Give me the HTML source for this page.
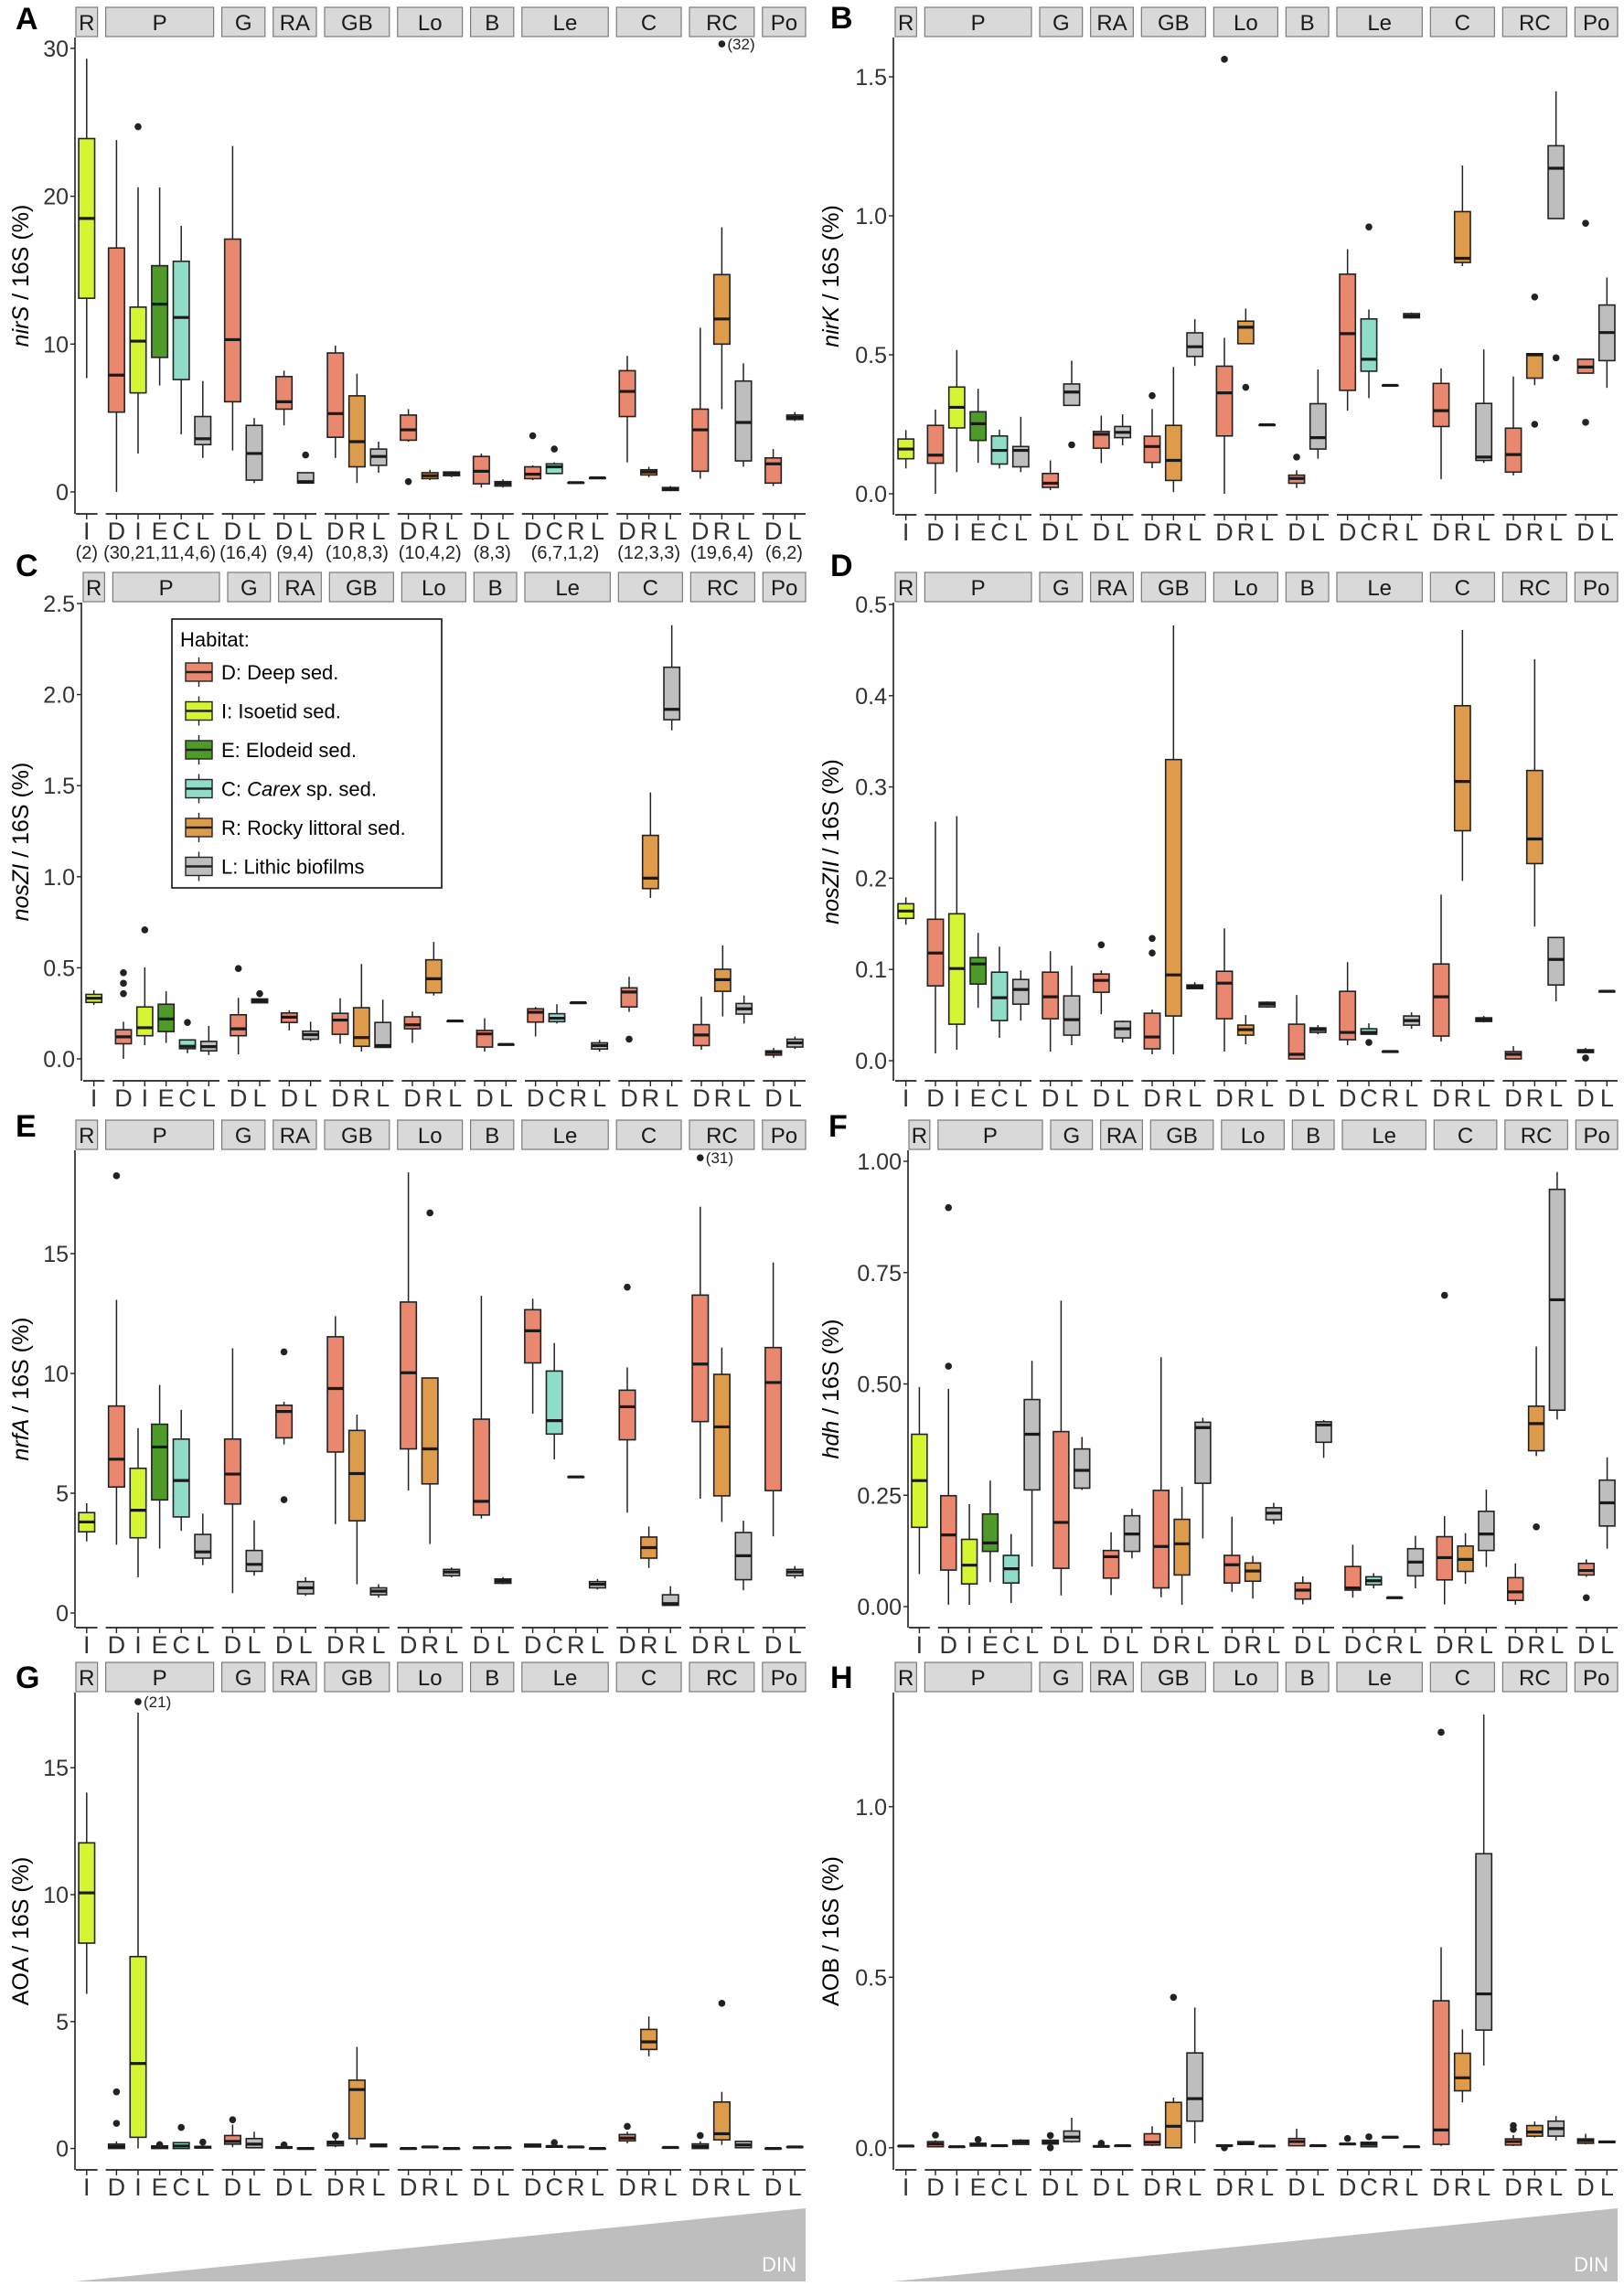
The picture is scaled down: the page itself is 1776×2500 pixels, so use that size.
<!DOCTYPE html>
<html><head><meta charset="utf-8"><style>
html,body{margin:0;padding:0;background:#fff;}
svg{display:block;font-family:"Liberation Sans",Arial,sans-serif;}
</style></head><body>
<svg id="s" width="1776" height="2500" viewBox="0 0 1776 2500" xmlns="http://www.w3.org/2000/svg"></svg>
<script>
var COL={D:"#E9876F",I:"#D4F531",E:"#4E9B29",C:"#8FDCC8",R:"#DE9B4B",L:"#BEBEBE"};
var FAC=[["R","I"],["P","DIECL"],["G","DL"],["RA","DL"],["GB","DRL"],["Lo","DRL"],["B","DL"],["Le","DCRL"],["C","DRL"],["RC","DRL"],["Po","DL"]];
var NL=["(2)","(30,21,11,4,6)","(16,4)","(9,4)","(10,8,3)","(10,4,2)","(8,3)","(6,7,1,2)","(12,3,3)","(19,6,4)","(6,2)"];
var P={
A:[[13.1,18.5,23.9,7.7,29.3],[5.4,7.9,16.5,0,23.8],[6.7,10.2,12.5,2.6,20.6,24.7],[9.1,12.7,15.3,7.2,20.6],[7.6,11.8,15.6,3.9,18.0],[3.2,3.6,5.1,2.3,7.5],[6.1,10.3,17.1,2.8,23.4],[0.8,2.6,4.5,0.6,5.0],[5.6,6.1,7.8,4.5,8.2],[0.6,0.7,1.3,0.6,1.3,2.5],[3.7,5.3,9.4,2.3,9.9],[1.7,3.4,6.5,0.6,8.0],[1.8,2.4,2.9,1.3,3.4],[3.5,4.2,5.2,3.4,5.6,0.7],[0.9,1.1,1.3,0.8,1.5],[1.1,1.25,1.35,1.0,1.4],[0.55,1.4,2.4,0.3,2.6],[0.4,0.55,0.7,0.3,0.85],[0.9,1.2,1.7,0.8,1.8,3.8],[1.25,1.7,1.9,1.2,2.0,2.9],[0.63],[0.95],[5.1,6.8,8.2,2.0,9.2],[1.15,1.35,1.5,1.0,1.7],[0.1,0.2,0.3,0.05,0.4],[1.4,4.2,5.6,0.9,11.1],[10.0,11.7,14.7,5.6,17.9,30.3],[2.1,4.7,7.5,1.7,8.7],[0.6,1.9,2.3,0.4,2.9],[4.9,5.05,5.2,4.8,5.4]],
B:[[.126,.161,.197,.091,.229],[.110,.139,.246,0,.303],[.237,.311,.384,.078,.517],[.192,.252,.295,.111,.378],[.107,.156,.208,.091,.231],[.097,.156,.170,.078,.277],[.023,.038,.073,.013,.12],[.318,.366,.395,.318,.479,.176],[.164,.214,.224,.11,.281],[.202,.221,.242,.174,.286],[.113,.170,.207,.092,.305,.353],[.048,.12,.246,.006,.456],[.494,.529,.579,.46,.628],[.208,.363,.459,0,.561,1.563],[.54,.599,.621,.54,.666,.383],[.248],[.038,.055,.067,.021,.085,.132],[.161,.202,.324,.126,.447],[.372,.576,.79,.299,.88],[.441,.484,.629,.344,.663,.96],[.39],[.633,.64,.648,.63,.652],[.242,.299,.397,.053,.451],[.832,.847,1.015,.819,1.181],[.12,.132,.325,.111,.519],[.078,.141,.236,.066,.422],[.416,.5,.504,.391,.504,.708,.25],[.99,1.171,1.252,.99,1.448,.489],[.434,.456,.484,.434,.484,.973,.257],[.479,.58,.679,.381,.778]],
C:[[.31,.333,.354,.296,.377],[.083,.121,.16,0,.204,.473,.415,.358],[.127,.171,.285,.075,.502,.708],[.15,.219,.3,.088,.371],[.056,.069,.104,.031,.104,.2],[.044,.067,.096,.021,.181],[.127,.165,.242,.025,.335,.496],[.308,.319,.329,.308,.329,.358],[.2,.229,.252,.156,.267],[.108,.133,.152,.098,.204],[.135,.213,.25,.083,.333],[.069,.117,.281,.04,.521],[.063,.073,.2,.063,.325],[.165,.187,.231,.088,.26],[.363,.44,.544,.348,.642],[.208],[.065,.137,.156,.04,.223],[.079],[.202,.256,.275,.123,.285],[.204,.223,.248,.194,.3],[.308],[.054,.073,.088,.04,.104],[.285,.367,.39,.258,.45,.108],[.935,.992,1.227,.883,1.463],[1.862,1.919,2.15,1.804,2.381],[.073,.131,.188,.05,.342],[.371,.435,.492,.233,.623],[.246,.275,.304,.194,.348],[.021,.035,.044,.006,.06],[.065,.088,.108,.054,.123]],
D:[[.156,.164,.172,.149,.179],[.082,.118,.155,.008,.262],[.04,.101,.161,.012,.268],[.084,.106,.113,.058,.14],[.044,.069,.097,.025,.125],[.062,.078,.089,.044,.099],[.046,.07,.097,.01,.12],[.028,.045,.071,.017,.104],[.075,.088,.095,.051,.099,.127],[.025,.035,.043,.02,.044],[.013,.026,.052,.007,.056,.134,.118],[.049,.094,.33,.007,.477],[.079,.081,.083,.079,.086],[.046,.085,.098,.01,.145],[.028,.034,.039,.018,.05],[.059,.062,.064,.058,.065],[.002,.007,.04,.002,.072],[.031,.034,.036,.029,.039],[.023,.031,.076,.017,.108],[.029,.031,.035,.029,.041,.02],[.01],[.039,.044,.049,.035,.053],[.027,.07,.106,.021,.182],[.252,.306,.389,.197,.472],[.043,.045,.047,.042,.049],[.002,.007,.01,.002,.016],[.216,.243,.318,.147,.44],[.083,.111,.135,.065,.135],[.009,.01,.012,.009,.014,.003],[.076]],
E:[[3.39,3.8,4.19,2.99,4.58],[5.26,6.42,8.64,2.85,13.07,18.25],[3.14,4.29,6.04,1.49,7.72],[4.72,6.93,7.88,2.69,9.52],[4.01,5.53,7.26,3.43,8.48],[2.29,2.55,3.28,2.0,4.15],[4.55,5.8,7.26,.83,11.05],[1.74,2.03,2.61,1.56,3.87],[7.31,8.41,8.67,7.04,8.82,10.9,4.73],[.8,1.05,1.31,.72,1.49],[6.72,9.37,11.53,3.71,12.39],[3.85,5.82,7.62,1.2,8.28],[.76,.91,1.05,.64,1.2],[6.85,10.03,12.98,5.11,18.39],[5.39,6.85,9.81,2.88,9.81,16.7],[1.56,1.71,1.82,1.49,1.9],[4.09,4.66,8.09,3.94,13.24],[1.24,1.33,1.42,1.2,1.5],[10.44,11.78,12.66,8.32,13.12],[7.47,8.03,10.1,6.41,11.27],[5.68],[1.05,1.2,1.31,.98,1.42],[7.23,8.61,9.3,4.19,10.25,13.6],[2.29,2.73,3.17,1.88,3.61],[.32,.39,.76,.32,1.12],[7.99,10.39,13.27,4.77,16.96,19.0],[4.89,7.77,9.96,3.8,11.08],[1.39,2.39,3.36,.95,3.85],[5.11,9.62,11.08,3.2,14.63],[1.56,1.71,1.82,1.45,1.96]],
F:[[.178,.283,.387,.073,.493],[.082,.161,.249,.004,.489,.896,.54],[.051,.093,.151,.004,.23],[.124,.143,.208,.055,.283],[.053,.085,.115,.008,.163],[.262,.387,.465,.09,.552],[.086,.189,.393,.025,.687],[.266,.306,.354,.262,.381],[.064,.112,.126,.026,.167],[.124,.163,.204,.108,.22],[.042,.135,.261,.021,.56],[.071,.141,.196,.004,.269],[.277,.402,.414,.153,.424],[.053,.094,.115,.033,.202],[.057,.08,.098,.018,.114],[.195,.21,.222,.185,.233],[.017,.037,.053,.005,.068],[.369,.408,.415,.334,.419],[.037,.042,.09,.02,.139],[.049,.058,.067,.041,.075],[.02],[.069,.1,.13,.041,.159],[.06,.11,.157,.005,.203,.699],[.079,.106,.136,.051,.165],[.126,.163,.214,.089,.263],[.014,.033,.065,.004,.097],[.35,.411,.45,.338,.584,.179],[.441,.689,.937,.42,.976],[.071,.081,.097,.067,.106,.02],[.181,.233,.284,.13,.335]],
G:[[8.09,10.07,12.04,6.09,14.02],[0,.08,.17,0,.28,2.23,.99],[.44,3.35,7.56,0,17.17,17.6],[0,.05,.1,0,.2,.15],[0,.1,.23,0,.23,.83],[.02,.05,.08,0,.1,.25],[.17,.28,.51,.05,.94,1.13],[.03,.17,.39,0,.66],[.02,.04,.06,0,.08,.14],[-.02,0,.02,-.02,.02],[.11,.21,.28,.05,.41,.51],[.39,2.32,2.69,.14,4.0],[.07,.12,.17,.07,.17],[0],[.06],[0],[.03],[.03],[.06,.1,.17,.06,.17],[.05,.08,.1,.05,.1,.23],[.06],[0],[.3,.41,.55,.2,.66,.87],[3.9,4.2,4.69,3.63,5.2],[.04],[0,.08,.18,0,.28,.51],[.34,.58,1.83,.14,2.23,5.72],[.03,.14,.28,.03,.28],[0],[.06]],
H:[[.005],[.003,.011,.018,.003,.022,.037],[.003],[.005,.009,.013,.005,.016,.024],[.006],[.01,.016,.022,.01,.025],[.011,.016,.022,.011,.025,.036,0],[.018,.031,.049,.015,.088],[.003,.004,.005,.003,.005,.013],[.006],[.008,.016,.041,.005,.063],[0,.063,.133,0,.147,.441],[.078,.144,.278,.013,.411],[.005,.006,.007,.005,.007,0],[.01,.012,.018,.01,.018],[.005],[.006,.018,.027,.004,.056],[.006],[.01,.011,.012,.01,.012,.027],[.003,.01,.016,.003,.018,.032],[.031],[.003],[.01,.052,.431,.005,.588,1.218],[.167,.205,.277,.133,.347],[.345,.451,.862,.241,1.27],[.008,.018,.026,.005,.037,.065,.054],[.034,.046,.065,.03,.077],[.034,.056,.078,.021,.093],[.013,.021,.026,.01,.041],[.015,.017,.019,.015,.019]]
};
var CFG=[
{k:"A",ax:82,f0:83,f1:881,st:8,sb:41,bot:562,y0:538,s:16.17,t:[[0,"0"],[10,"10"],[20,"20"],[30,"30"]],g:"nirS",r:" / 16S (%)",it:1,lx:17,ly:32,tx:22,n:1,ann:[26,30.3,"(32)"]},
{k:"B",ax:977,f0:979,f1:1769,st:8,sb:41,bot:563,y0:540,s:304,t:[[0,"0.0"],[.5,"0.5"],[1,"1.0"],[1.5,"1.5"]],g:"nirK",r:" / 16S (%)",it:1,lx:908,ly:31,tx:908},
{k:"C",ax:89,f0:91,f1:881,st:626,sb:659,bot:1182,y0:1158,s:199.2,t:[[0,"0.0"],[.5,"0.5"],[1,"1.0"],[1.5,"1.5"],[2,"2.0"],[2.5,"2.5"]],g:"nosZI",r:" / 16S (%)",it:1,lx:17,ly:630,tx:22,leg:1},
{k:"D",ax:977,f0:979,f1:1769,st:626,sb:659,bot:1182,y0:1160,s:998,t:[[0,"0.0"],[.1,"0.1"],[.2,"0.2"],[.3,"0.3"],[.4,"0.4"],[.5,"0.5"]],g:"nosZII",r:" / 16S (%)",it:1,lx:908,ly:630,tx:908},
{k:"E",ax:82,f0:83,f1:881,st:1225,sb:1258,bot:1780,y0:1764,s:26.2,t:[[0,"0"],[5,"5"],[10,"10"],[15,"15"]],g:"nrfA",r:" / 16S (%)",it:1,lx:17,ly:1243,tx:22,ann:[25,19.0,"(31)"]},
{k:"F",ax:993,f0:994,f1:1769,st:1225,sb:1258,bot:1780,y0:1757,s:487,t:[[0,"0.00"],[.25,"0.25"],[.5,"0.50"],[.75,"0.75"],[1,"1.00"]],g:"hdh",r:" / 16S (%)",it:1,lx:906,ly:1243,tx:908},
{k:"G",ax:82,f0:83,f1:881,st:1818,sb:1851,bot:2373,y0:2349.6,s:27.76,t:[[0,"0"],[5,"5"],[10,"10"],[15,"15"]],g:"AOA",r:" / 16S (%)",it:0,lx:17,ly:1846,tx:22,ann:[2,17.6,"(21)"],din:1},
{k:"H",ax:977,f0:979,f1:1769,st:1818,sb:1851,bot:2373,y0:2348.8,s:373,t:[[0,"0.0"],[.5,"0.5"],[1,"1.0"]],g:"AOB",r:" / 16S (%)",it:0,lx:908,ly:1846,tx:908,din:1}
];
var o=[];
function L(x1,y1,x2,y2,w,c){o.push('<line x1="'+x1+'" y1="'+y1+'" x2="'+x2+'" y2="'+y2+'" stroke="'+(c||"#222")+'" stroke-width="'+(w||1.6)+'"/>');}
function T(x,y,s,fs,a,ex){o.push('<text x="'+x+'" y="'+y+'" font-size="'+fs+'" text-anchor="'+(a||"middle")+'" '+(ex||'')+'>'+s+'</text>');}
CFG.forEach(function(c){
  var d=P[c.k];var g=9,w=((c.f1-c.f0)-10*g)/30;
  var Y=function(v){return c.y0-v*c.s;};
  // letter
  T(c.lx,c.ly,c.k,34,"start",'font-weight="bold"');
  // y axis
  L(c.ax,c.sb,c.ax,c.bot,1.6);
  c.t.forEach(function(t){var y=Y(t[0]);L(c.ax-5,y,c.ax,y,1.4);T(c.ax-7,y+9,t[1],25,"end",'fill="#333"');});
  // title
  var cy=(c.sb+c.bot)/2;
  o.push('<text transform="translate('+(c.tx+9)+','+cy+') rotate(-90)" font-size="25" text-anchor="middle"><tspan'+(c.it?' font-style="italic"':'')+'>'+c.g+'</tspan>'+c.r+'</text>');
  var x=c.f0,idx=0;
  FAC.forEach(function(f,fi){
    var n=f[1].length,fw=n*w;
    o.push('<rect x="'+x+'" y="'+c.st+'" width="'+fw+'" height="'+(c.sb-c.st-1)+'" fill="#D9D9D9" stroke="#7a7a7a" stroke-width="1.2"/>');
    T(x+fw/2,c.st+25,f[0],24,"middle",'fill="#1a1a1a"');
    L(x,c.bot,x+fw,c.bot,1.8);
    if(c.n)T(x+fw/2,c.bot+49,NL[fi],20,"middle",'fill="#222"');
    for(var i=0;i<n;i++){
      var cx=x+(i+.5)*w,h=f[1][i],b=d[idx];
      L(cx,c.bot,cx,c.bot+6,1.4);
      T(cx,c.bot+28,h,27,"middle",'fill="#333"');
      var q1,m,q3,lo,hi,outs=[];
      if(b.length==1){q1=m=q3=lo=hi=b[0];}else{q1=b[0];m=b[1];q3=b[2];lo=b[3];hi=b[4];outs=b.slice(5);}
      var bw=w*0.74;
      L(cx,Y(hi),cx,Y(q3),1.5);L(cx,Y(q1),cx,Y(lo),1.5);
      var yt=Y(q3),yb=Y(q1);
      o.push('<rect x="'+(cx-bw/2)+'" y="'+yt+'" width="'+bw+'" height="'+Math.max(yb-yt,0.5)+'" fill="'+COL[h]+'" stroke="#222" stroke-width="1.6"/>');
      L(cx-bw/2,Y(m),cx+bw/2,Y(m),3.2,"#1a1a1a");
      outs.forEach(function(v){o.push('<circle cx="'+cx+'" cy="'+Y(v)+'" r="3.8" fill="#222"/>');});
      if(c.ann&&c.ann[0]==idx){T(cx+6,Y(c.ann[1])+6,c.ann[2],17,"start",'fill="#222"');}
      idx++;
    }
    x+=fw+g;
  });
  if(c.leg){
    o.push('<rect x="188" y="677" width="295" height="294" fill="#fff" stroke="#111" stroke-width="1.6"/>');
    T(197,707,"Habitat:",22,"start");
    var items=[["D","D: Deep sed."],["I","I: Isoetid sed."],["E","E: Elodeid sed."],["C",'C: <tspan font-style="italic">Carex</tspan> sp. sed.'],["R","R: Rocky littoral sed."],["L","L: Lithic biofilms"]];
    items.forEach(function(it,j){var yc=735+j*42.5;
      L(217.5,yc-16,217.5,yc+16,1.4);
      o.push('<rect x="203" y="'+(yc-10)+'" width="29" height="20" fill="'+COL[it[0]]+'" stroke="#222" stroke-width="1.4"/>');
      L(203,yc,232,yc,2.4);
      T(242,yc+8,it[1],22,"start");});
  }
  if(c.din){
    var x0=c.ax,x1=c.f1;
    o.push('<polygon points="'+x0+',2495 '+x1+',2415 '+x1+',2495" fill="#BEBEBE"/>');
    T(x1-10,2484,"DIN",22,"end",'fill="#fff"');
  }
});
document.getElementById("s").innerHTML=o.join("");
</script>
</body></html>
